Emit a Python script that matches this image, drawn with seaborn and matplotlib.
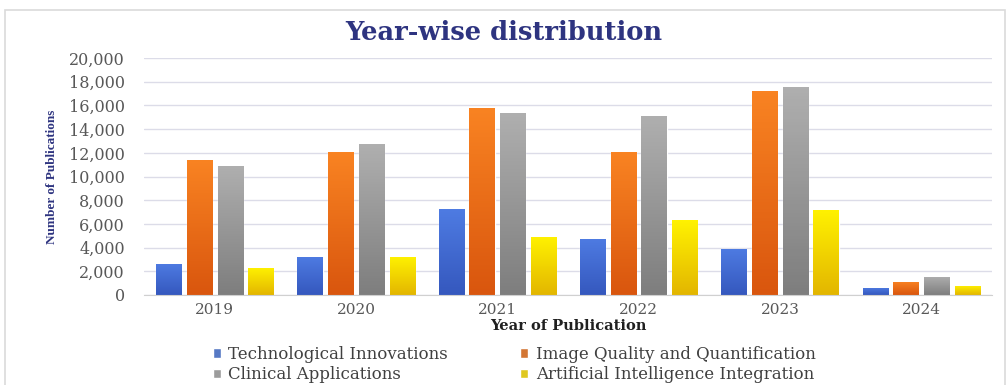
import matplotlib
matplotlib.use("Agg")
import matplotlib.pyplot as plt
import numpy as np
import pandas as pd
import seaborn as sns
from matplotlib.colors import LinearSegmentedColormap
from matplotlib.patches import Rectangle
from matplotlib.ticker import FuncFormatter

years = ["2019", "2020", "2021", "2022", "2023", "2024"]
categories = [
    "Technological Innovations",
    "Image Quality and Quantification",
    "Clinical Applications",
    "Artificial Intelligence Integration",
]
tech = [2620, 3210, 7240, 4760, 3890, 620]
image_quality = [11410, 12060, 15830, 12060, 17240, 1130]
clinical = [10930, 12730, 15380, 15150, 17600, 1550]
ai = [2310, 3210, 4930, 6310, 7180, 790]

colors = ["#4472D6", "#EE7219", "#9C9C9C", "#FFE000"]
# top / bottom shades for the gradient fill
shades = [
    ("#4E7BE2", "#3558BE"),
    ("#F98322", "#D9560E"),
    ("#AFAFAF", "#7E7E7E"),
    ("#FFF200", "#E3B600"),
]

df = pd.DataFrame(
    {
        "year": years * 4,
        "category": np.repeat(categories, len(years)),
        "count": tech + image_quality + clinical + ai,
    }
)

sns.set_style("white")
plt.rcParams["font.family"] = ["DejaVu Serif"]

fig = plt.figure(figsize=(10.08, 3.85), dpi=100)
ax = fig.add_axes([0.143, 0.234, 0.841, 0.615])

sns.barplot(
    data=df,
    x="year",
    y="count",
    hue="category",
    hue_order=categories,
    palette=colors,
    width=0.87,
    gap=0.18,
    ax=ax,
)

# vertical gradient inside each bar
grad = np.linspace(0, 1, 64).reshape(-1, 1)
for i, container in enumerate(ax.containers):
    cmap = LinearSegmentedColormap.from_list("g", [shades[i][1], shades[i][0]])
    for bar in container:
        x0, y0 = bar.get_x(), bar.get_y()
        w, h = bar.get_width(), bar.get_height()
        im = ax.imshow(
            grad,
            cmap=cmap,
            aspect="auto",
            origin="lower",
            extent=[x0, x0 + w, y0, y0 + h],
            zorder=bar.get_zorder() + 0.1,
        )
        im.set_clip_path(bar)

ax.set_xlim(-0.5, 5.5)
ax.set_ylim(0, 20000)
ax.set_yticks(range(0, 20001, 2000))
ax.yaxis.set_major_formatter(FuncFormatter(lambda v, _: f"{int(v):,}"))
ax.grid(axis="y", color="#DCDCE8", linewidth=1)
ax.set_axisbelow(True)
for side in ["top", "right", "left"]:
    ax.spines[side].set_visible(False)
ax.spines["bottom"].set_color("#D0D0D0")
ax.tick_params(axis="both", length=0, colors="#585858")
ax.tick_params(axis="y", pad=14, labelsize=11.5)
ax.tick_params(axis="x", pad=6, labelsize=11)

ax.set_xlabel("Year of Publication", fontsize=10.5, fontweight="bold", color="#202020", labelpad=1)
ax.set_ylabel(
    "Number of Publications",
    fontsize=9.5,
    fontweight="bold",
    color="#2E3480",
    family="Liberation Serif",
    labelpad=8,
)

fig.text(
    0.5, 0.915, "Year-wise distribution",
    ha="center", va="center", fontsize=18.5, fontweight="bold", color="#2E3480",
)

handles, labels = ax.get_legend_handles_labels()
ax.get_legend().remove()
order = [0, 2, 1, 3]
fig.legend(
    [handles[k] for k in order],
    [labels[k] for k in order],
    loc="lower left",
    bbox_to_anchor=(0.196, -0.035),
    ncol=2,
    frameon=False,
    fontsize=12,
    labelcolor="#404040",
    handlelength=0.5,
    handleheight=0.5,
    handletextpad=0.45,
    columnspacing=4.3,
    labelspacing=0.2,
)

fig.add_artist(
    Rectangle(
        (0.005, -0.02), 0.992, 0.994,
        transform=fig.transFigure, fill=False, edgecolor="#DADADA", linewidth=1.2,
    )
)

fig.savefig("out.png", dpi=100)
